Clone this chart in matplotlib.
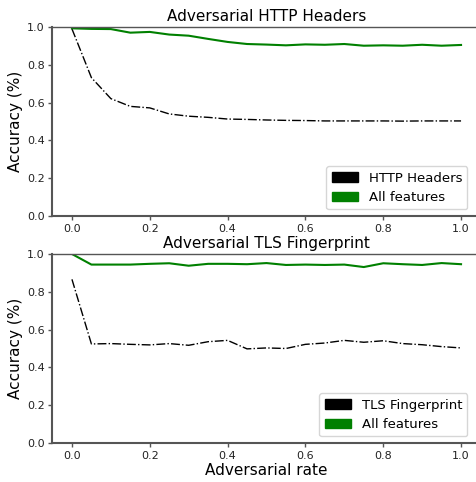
import matplotlib
matplotlib.use("Agg")
import matplotlib.pyplot as plt
import matplotlib.patches as mpatches

rates = [0.0, 0.05, 0.1, 0.15, 0.2, 0.25, 0.3, 0.35, 0.4, 0.45, 0.5,
         0.55, 0.6, 0.65, 0.7, 0.75, 0.8, 0.85, 0.9, 0.95, 1.0]

http_only = [0.99, 0.732, 0.621, 0.58, 0.572, 0.54, 0.528, 0.522, 0.513, 0.511, 0.508,
             0.506, 0.505, 0.503, 0.503, 0.503, 0.503, 0.502, 0.503, 0.503, 0.503]
http_all = [0.993, 0.99, 0.989, 0.970, 0.974, 0.960, 0.954, 0.937, 0.921, 0.910, 0.907,
            0.903, 0.908, 0.906, 0.910, 0.901, 0.903, 0.901, 0.906, 0.901, 0.905]

tls_only = [0.866, 0.524, 0.526, 0.522, 0.519, 0.526, 0.517, 0.536, 0.543, 0.498, 0.503,
            0.500, 0.522, 0.529, 0.543, 0.533, 0.541, 0.526, 0.520, 0.510, 0.503]
tls_all = [1.0, 0.944, 0.944, 0.944, 0.948, 0.951, 0.938, 0.948, 0.948, 0.946, 0.952,
           0.942, 0.944, 0.942, 0.944, 0.931, 0.951, 0.946, 0.942, 0.952, 0.946]

titles = ["Adversarial HTTP Headers", "Adversarial TLS Fingerprint"]
labels = ["HTTP Headers", "TLS Fingerprint"]

fig = plt.figure(figsize=(4.77, 4.82), dpi=100)
W, H = 477, 482
ax1 = fig.add_axes([52.5 / W, (H - 216) / H, 428 / W, 189 / H])
ax2 = fig.add_axes([52.5 / W, (H - 443) / H, 428 / W, 189 / H])

spine_col = "#555555"
for ax, title, lab, only, allf in [(ax1, titles[0], labels[0], http_only, http_all),
                                   (ax2, titles[1], labels[1], tls_only, tls_all)]:
    ax.plot(rates, only, color="black", linestyle="-.", linewidth=1.0)
    ax.plot(rates, allf, color="green", linestyle="-", linewidth=1.5)
    ax.set_xlim(-0.05, 1.05)
    ax.set_ylim(0.0, 1.0)
    ax.set_xticks([0.0, 0.2, 0.4, 0.6, 0.8, 1.0])
    ax.set_yticks([0.0, 0.2, 0.4, 0.6, 0.8, 1.0])
    ax.set_title(title, fontsize=11, pad=4)
    ax.set_ylabel("Accuracy (%)", fontsize=11, labelpad=3)
    ax.tick_params(labelsize=8, color=spine_col, width=1.0, length=3, pad=2.5,
                   labelcolor="#222222")
    for s in ["left", "bottom"]:
        ax.spines[s].set_color(spine_col)
        ax.spines[s].set_linewidth(1.5)
    ax.spines["top"].set_color(spine_col)
    ax.spines["top"].set_linewidth(1.0)
    ax.spines["right"].set_visible(False)
    handles = [mpatches.Patch(color="black", label=lab),
               mpatches.Patch(color="green", label="All features")]
    ax.legend(handles=handles, loc="lower right", fontsize=9.5,
              bbox_to_anchor=(0.985, 0.0))

ax2.set_xlabel("Adversarial rate", fontsize=11, labelpad=2)

fig.savefig("out.png", dpi=100)
